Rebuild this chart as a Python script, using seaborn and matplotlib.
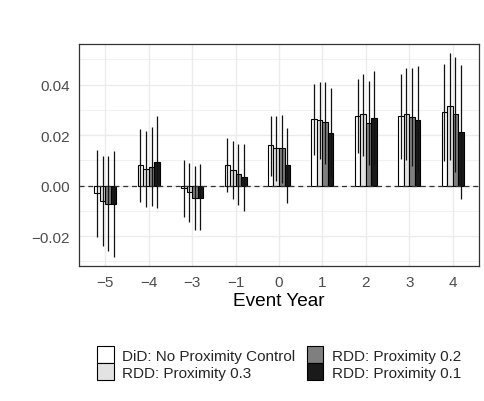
import matplotlib
matplotlib.use("Agg")
import matplotlib.pyplot as plt
import seaborn as sns
import pandas as pd
import numpy as np
from matplotlib.patches import Patch
from matplotlib.ticker import FixedLocator

# ---- data ----
years = ["\u22125", "\u22124", "\u22123", "\u22121", "0", "1", "2", "3", "4"]
series = ["DiD: No Proximity Control", "RDD: Proximity 0.3",
          "RDD: Proximity 0.2", "RDD: Proximity 0.1"]

did_est = [-0.0030, 0.0081, -0.0011, 0.0083, 0.0160, 0.0264, 0.0275, 0.0277, 0.0290]
did_lo = [-0.0205, -0.0066, -0.0123, -0.0024, 0.0040, 0.0121, 0.0128, 0.0107, 0.0098]
did_hi = [0.0141, 0.0224, 0.0103, 0.0187, 0.0277, 0.0403, 0.0421, 0.0444, 0.0480]

r3_est = [-0.0062, 0.0065, -0.0026, 0.0062, 0.0149, 0.0260, 0.0282, 0.0282, 0.0314]
r3_lo = [-0.0240, -0.0086, -0.0145, -0.0051, 0.0020, 0.0106, 0.0117, 0.0100, 0.0102]
r3_hi = [0.0119, 0.0215, 0.0090, 0.0176, 0.0276, 0.0409, 0.0442, 0.0465, 0.0525]

r2_est = [-0.0073, 0.0074, -0.0050, 0.0045, 0.0149, 0.0252, 0.0247, 0.0273, 0.0284]
r2_lo = [-0.0260, -0.0082, -0.0177, -0.0075, 0.0011, 0.0086, 0.0081, 0.0078, 0.0055]
r2_hi = [0.0117, 0.0231, 0.0078, 0.0164, 0.0281, 0.0409, 0.0414, 0.0466, 0.0511]

r1_est = [-0.0073, 0.0094, -0.0048, 0.0033, 0.0082, 0.0210, 0.0268, 0.0259, 0.0213]
r1_lo = [-0.0284, -0.0088, -0.0176, -0.0099, -0.0067, 0.0033, 0.0081, 0.0053, -0.0053]
r1_hi = [0.0136, 0.0276, 0.0086, 0.0164, 0.0227, 0.0385, 0.0454, 0.0473, 0.0477]

y_ticks = [-0.02, 0.00, 0.02, 0.04]
y_tick_labels = ["\u22120.02", "0.00", "0.02", "0.04"]

colors = ["#FFFFFF", "#E3E3E3", "#7F7F7F", "#1A1A1A"]

est = [did_est, r3_est, r2_est, r1_est]
lo = [did_lo, r3_lo, r2_lo, r1_lo]
hi = [did_hi, r3_hi, r2_hi, r1_hi]

rows = []
for s, e, l, h in zip(series, est, lo, hi):
    for y, ev, lv, hv in zip(years, e, l, h):
        rows.append({"year": y, "series": s, "est": ev, "lo": lv, "hi": hv})
df = pd.DataFrame(rows)

# ---- style ----
sns.set_style("white")
plt.rcParams["font.family"] = ["Liberation Sans", "DejaVu Sans"]

fig = plt.figure(figsize=(4.85, 4.02), dpi=100)
L, R = 79.3 / 485, 478.7 / 485
T, B = 1 - 44.7 / 402, 1 - 266.7 / 402
ax = fig.add_axes([L, B, R - L, T - B])

sns.barplot(data=df, x="year", y="est", hue="series", order=years,
            hue_order=series, palette=colors, width=0.51,
            edgecolor="black", linewidth=0.8, errorbar=None,
            legend=False, ax=ax, zorder=3)

# error bars at bar centres
for ci, cont in enumerate(ax.containers):
    s = series[ci]
    sub = df[df["series"] == s].set_index("year")
    for bar in cont:
        xc = bar.get_x() + bar.get_width() / 2
        j = int(round(xc))
        yr = years[j]
        ax.vlines(xc, sub.loc[yr, "lo"], sub.loc[yr, "hi"],
                  color="#111111", linewidth=0.9, zorder=4)

ax.axhline(0, color="#333333", linestyle=(0, (4, 3)), linewidth=0.9, zorder=3.5)

ax.set_xlim(-0.6, len(years) - 1 + 0.6)
ax.set_ylim(-0.0317, 0.0562)
ax.yaxis.set_major_locator(FixedLocator(y_ticks))
ax.set_yticklabels(y_tick_labels)
ax.yaxis.set_minor_locator(FixedLocator([-0.03, -0.01, 0.01, 0.03, 0.05]))

ax.set_axisbelow(True)
ax.grid(True, which="major", color="#EBEBEB", linewidth=1.0, zorder=0)
ax.grid(True, which="minor", axis="y", color="#EBEBEB", linewidth=0.5, zorder=0)
ax.tick_params(which="minor", length=0)
ax.tick_params(which="major", length=3.8, width=0.8, color="#333333",
               labelsize=11, labelcolor="#4D4D4D", pad=3.0)
for sp in ax.spines.values():
    sp.set_visible(True)
    sp.set_color("#333333")
    sp.set_linewidth(0.9)

ax.set_xlabel("Event Year", fontsize=13.7, color="black", labelpad=2)
ax.set_ylabel("")

handles = [Patch(facecolor=c, edgecolor="black", linewidth=0.8) for c in colors]
fig.legend(handles, series, loc="center", ncol=2, frameon=False,
           bbox_to_anchor=((L + R) / 2, 0.0945), fontsize=11,
           handlelength=1.1, handleheight=1.35, labelspacing=0.0,
           handletextpad=0.55, columnspacing=0.75, borderpad=0)

fig.savefig("out.png", dpi=100, facecolor="white")
